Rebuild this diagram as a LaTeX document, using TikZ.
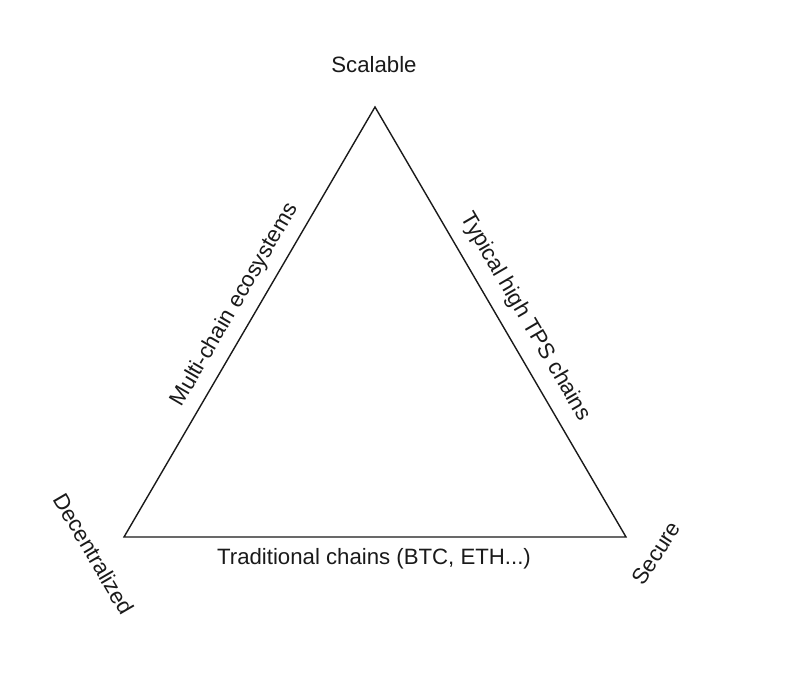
\documentclass[tikz,border=0pt]{standalone}
\usepackage{fontspec}
\setmainfont{Liberation Sans}
\definecolor{ink}{HTML}{1A1A1A}
\begin{document}
\begin{tikzpicture}[x=1pt,y=1pt,
  lbl/.style={inner sep=0pt,text=ink,font=\fontsize{22.2}{26}\selectfont},
  edge/.style={draw=ink,line width=1.4pt,line join=miter}]
\useasboundingbox[fill=white] (0,0) rectangle (786,696);
\coordinate (T) at (375,589);
\coordinate (L) at (124,159);
\coordinate (R) at (626,159);
\draw[edge] (T) -- (R) -- (L) -- cycle;
\node[lbl,anchor=base] (scal) at (374,623) {Scalable};
\node[lbl,anchor=base] (trad) at (374,132) {Traditional chains (BTC, ETH...)};
\node[lbl,rotate=59.7] (multi) at (235,391) {Multi-chain ecosystems};
\node[lbl,rotate=-59.7] (typ) at (525,379) {Typical high TPS chains};
\node[lbl,rotate=-59.7] (dec) at (94,142) {Decentralized};
\node[lbl,rotate=57] (sec) at (656,143) {Secure};
\end{tikzpicture}
\end{document}
